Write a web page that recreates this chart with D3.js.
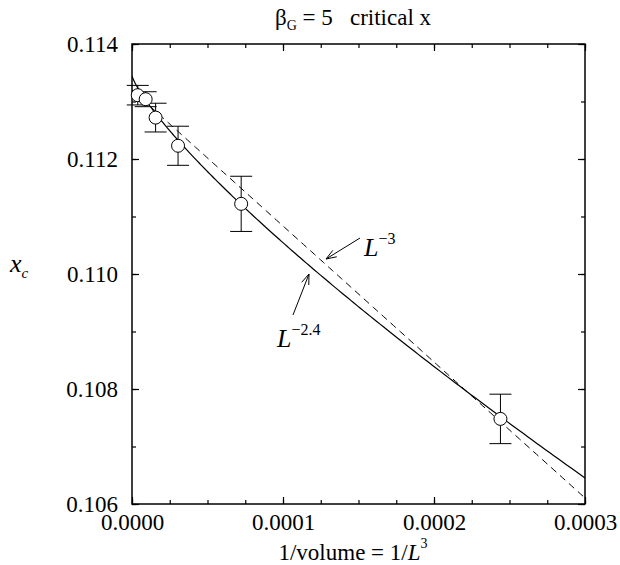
<!DOCTYPE html>
<html>
<head>
<meta charset="utf-8">
<script src="https://cdn.jsdelivr.net/npm/d3@7"></script>
<style>
  body { margin: 0; background: #fff; }
  .axis path { display: none; }
  .axis line { stroke: #000; stroke-width: 1.2; }
</style>
</head>
<body>
<div class="chart"></div>
<script>
var width = 620, height = 565;
var serif = "'Liberation Serif', 'Times New Roman', Times, 'Nimbus Roman', 'DejaVu Serif', serif";

// data
var inv_volume = [3.81e-6, 9.04e-6, 1.5625e-5, 3.05e-5, 7.23e-5, 2.44e-4];
var xc = [0.11311, 0.11304, 0.11272, 0.11223, 0.11122, 0.10748];
var xc_err = [0.00017, 0.00013, 0.00025, 0.00034, 0.00048, 0.00043];

// fit curves: solid  xc = a + b * (1/L^3)^0.8  (i.e. L^-2.4), dashed  xc = a + b/L^3
var fit_24 = {a: 0.11345, b: -4.605, p: 0.8};
var fit_3 = {a: 0.1132, b: -23.65, p: 1};

var x_major = [0, 0.0001, 0.0002, 0.0003];
var y_major = [0.106, 0.108, 0.110, 0.112, 0.114];

var margin = {left: 132, right: 35, top: 44, bottom: 61};

var svg = d3.select(".chart").append("svg")
    .attr("width", width)
    .attr("height", height)
    .attr("font-family", serif);

var x = d3.scaleLinear()
    .domain([0, 0.0003])
    .range([margin.left, width - margin.right]);

var y = d3.scaleLinear()
    .domain([0.106, 0.114])
    .range([height - margin.bottom, margin.top]);

var x_minor = d3.range(0, 0.0003 + 1e-9, 0.000025),
    y_minor = d3.range(0.106, 0.114 + 1e-9, 0.001);

// axes, ticks inside on all four sides
var x0 = x.range()[0], x1 = x.range()[1], y0 = y.range()[0], y1 = y.range()[1];

function styleAxis(g){
  g.attr("font-family", serif).attr("font-size", 23);
  g.selectAll("text").attr("fill", "#000");
}

svg.append("g").attr("class", "axis")
    .attr("transform", "translate(0," + y0 + ")")
    .call(d3.axisBottom(x).tickValues(x_major).tickSizeInner(-7).tickSizeOuter(0).tickPadding(10)
      .tickFormat(d3.format(".4f")))
    .call(styleAxis);
svg.append("g").attr("class", "axis")
    .attr("transform", "translate(0," + y0 + ")")
    .call(d3.axisBottom(x).tickValues(x_minor).tickSizeInner(-4).tickSizeOuter(0).tickFormat(""));
svg.append("g").attr("class", "axis")
    .attr("transform", "translate(0," + y1 + ")")
    .call(d3.axisTop(x).tickValues(x_major).tickSizeInner(-7).tickSizeOuter(0).tickFormat(""));
svg.append("g").attr("class", "axis")
    .attr("transform", "translate(0," + y1 + ")")
    .call(d3.axisTop(x).tickValues(x_minor).tickSizeInner(-4).tickSizeOuter(0).tickFormat(""));

svg.append("g").attr("class", "axis")
    .attr("transform", "translate(" + x0 + ",0)")
    .call(d3.axisLeft(y).tickValues(y_major).tickSizeInner(-7).tickSizeOuter(0).tickPadding(14)
      .tickFormat(d3.format(".3f")))
    .call(styleAxis);
svg.append("g").attr("class", "axis")
    .attr("transform", "translate(" + x0 + ",0)")
    .call(d3.axisLeft(y).tickValues(y_minor).tickSizeInner(-4).tickSizeOuter(0).tickFormat(""));
svg.append("g").attr("class", "axis")
    .attr("transform", "translate(" + x1 + ",0)")
    .call(d3.axisRight(y).tickValues(y_major).tickSizeInner(-7).tickSizeOuter(0).tickFormat(""));
svg.append("g").attr("class", "axis")
    .attr("transform", "translate(" + x1 + ",0)")
    .call(d3.axisRight(y).tickValues(y_minor).tickSizeInner(-4).tickSizeOuter(0).tickFormat(""));

svg.append("rect")
    .attr("x", x0).attr("y", y1)
    .attr("width", x1 - x0).attr("height", y0 - y1)
    .attr("fill", "none").attr("stroke", "#000").attr("stroke-width", 1.5);

// fit lines
var plot = svg.append("g");
plot.append("clipPath").attr("id", "clip")
  .append("rect").attr("x", x0).attr("y", y1).attr("width", x1 - x0).attr("height", y0 - y1);

function fitPoints(f){
  var v = d3.range(0, 201).map(function(i){ return 0.0003 * Math.pow(i / 200, 2); });
  return v.map(function(d){ return [d, f.a + f.b * Math.pow(d, f.p)]; });
}

var line = d3.line()
    .x(function(d){ return x(d[0]); })
    .y(function(d){ return y(d[1]); });

plot.append("path")
    .datum(fitPoints(fit_3))
    .attr("clip-path", "url(#clip)")
    .attr("d", line)
    .attr("fill", "none").attr("stroke", "#000").attr("stroke-width", 1)
    .attr("stroke-dasharray", "7,5");

plot.append("path")
    .datum(fitPoints(fit_24))
    .attr("clip-path", "url(#clip)")
    .attr("d", line)
    .attr("fill", "none").attr("stroke", "#000").attr("stroke-width", 1.2);

// error bars
var pts = inv_volume.map(function(d, i){ return {v: d, xc: xc[i], err: xc_err[i]}; });
var cap = 11;

var eb = plot.selectAll(".err")
    .data(pts)
  .enter().append("g")
    .attr("class", "err")
    .attr("stroke", "#000").attr("stroke-width", 1);

eb.append("line")
    .attr("x1", function(d){ return x(d.v); })
    .attr("x2", function(d){ return x(d.v); })
    .attr("y1", function(d){ return y(d.xc + d.err); })
    .attr("y2", function(d){ return y(d.xc - d.err); });
eb.append("line")
    .attr("x1", function(d){ return x(d.v) - cap; })
    .attr("x2", function(d){ return x(d.v) + cap; })
    .attr("y1", function(d){ return y(d.xc + d.err); })
    .attr("y2", function(d){ return y(d.xc + d.err); });
eb.append("line")
    .attr("x1", function(d){ return x(d.v) - cap; })
    .attr("x2", function(d){ return x(d.v) + cap; })
    .attr("y1", function(d){ return y(d.xc - d.err); })
    .attr("y2", function(d){ return y(d.xc - d.err); });

plot.selectAll(".pt")
    .data(pts)
  .enter().append("circle")
    .attr("class", "pt")
    .attr("cx", function(d){ return x(d.v); })
    .attr("cy", function(d){ return y(d.xc); })
    .attr("r", 6.5)
    .attr("fill", "#fff").attr("stroke", "#000").attr("stroke-width", 1);

// arrows
function arrow(tail, head){
  var ang = Math.atan2(head[1] - tail[1], head[0] - tail[0]),
      len = 11, spread = 0.35;
  svg.append("line")
      .attr("x1", tail[0]).attr("y1", tail[1]).attr("x2", head[0]).attr("y2", head[1])
      .attr("stroke", "#000").attr("stroke-width", 1);
  svg.append("path")
      .attr("d", "M" + (head[0] - len * Math.cos(ang - spread)) + "," + (head[1] - len * Math.sin(ang - spread)) +
                 "L" + head[0] + "," + head[1] +
                 "L" + (head[0] - len * Math.cos(ang + spread)) + "," + (head[1] - len * Math.sin(ang + spread)))
      .attr("fill", "none").attr("stroke", "#000").attr("stroke-width", 1);
}

arrow([293, 315], [309, 274]);
arrow([360, 238], [326, 259]);

function powerLabel(px, py, base, sup){
  var t = svg.append("text")
      .attr("x", px).attr("y", py)
      .attr("font-size", 26);
  t.append("tspan").attr("font-style", "italic").text(base);
  t.append("tspan").attr("dy", -12).attr("font-size", 16).text(sup);
}

powerLabel(277, 347, "L", "\u22122.4");
powerLabel(364, 256, "L", "\u22123");

// title
var title = svg.append("text")
    .attr("x", 353).attr("y", 25)
    .attr("text-anchor", "middle")
    .attr("font-size", 23)
    .attr("xml:space", "preserve");
title.append("tspan").text("\u03b2");
title.append("tspan").attr("dy", 5).attr("font-size", 14).text("G");
title.append("tspan").attr("dy", -5).text(" = 5   critical x");

// axis titles
var xt = svg.append("text")
    .attr("x", 353).attr("y", 560)
    .attr("text-anchor", "middle")
    .attr("font-size", 23);
xt.append("tspan").text("1/volume = 1/");
xt.append("tspan").attr("font-style", "italic").text("L");
xt.append("tspan").attr("dy", -12).attr("font-size", 14).text("3");

var yt = svg.append("text")
    .attr("x", 10).attr("y", 272)
    .attr("font-size", 26);
yt.append("tspan").attr("font-style", "italic").text("x");
yt.append("tspan").attr("dy", 6).attr("font-size", 15).attr("font-style", "italic").text("c");
</script>
</body>
</html>
